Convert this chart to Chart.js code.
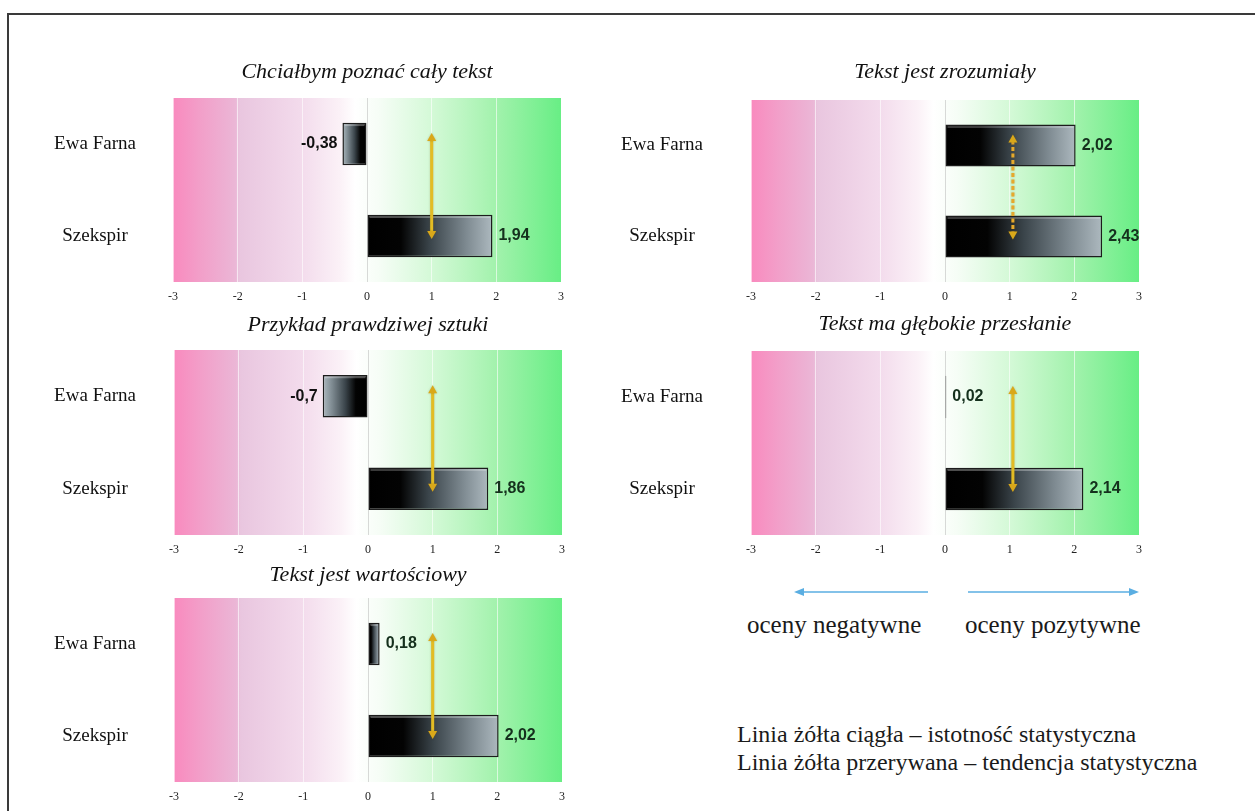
<!DOCTYPE html>
<html>
<head>
<meta charset="utf-8">
<script src="https://cdn.jsdelivr.net/npm/chart.js@4.4.1/dist/chart.umd.min.js"></script>
<style>
  html, body { margin: 0; padding: 0; background: #fff; }
  body { width: 1255px; height: 811px; position: relative; overflow: hidden; font-family: "Liberation Serif", "Times New Roman", serif; }
  .frame { position: absolute; left: 7px; top: 13px; width: 1260px; height: 820px; border-top: 2px solid #3a3a3a; border-left: 2px solid #3a3a3a; }
  .box { position: absolute; }
  .note { position: absolute; color: #1a1a1a; white-space: nowrap; }
</style>
</head>
<body>
<div class="frame"></div>
<div class="box" id="b0"><canvas id="c0"></canvas></div>
<div class="box" id="b1"><canvas id="c1"></canvas></div>
<div class="box" id="b2"><canvas id="c2"></canvas></div>
<div class="box" id="b3"><canvas id="c3"></canvas></div>
<div class="box" id="b4"><canvas id="c4"></canvas></div>

<svg style="position:absolute;left:780px;top:580px" width="370" height="24">
  <line x1="148" y1="12" x2="24" y2="12" stroke="#5aaee2" stroke-width="1.5"/>
  <polygon points="14,12 24,8 24,16" fill="#5aaee2"/>
  <line x1="188" y1="12" x2="350" y2="12" stroke="#5aaee2" stroke-width="1.5"/>
  <polygon points="359,12 349,8 349,16" fill="#5aaee2"/>
</svg>
<div class="note" style="left:747px;top:612px;font-size:25px;line-height:1">oceny negatywne</div>
<div class="note" style="left:965px;top:612px;font-size:25px;line-height:1">oceny pozytywne</div>
<div class="note" style="left:737px;top:720px;font-size:24px;line-height:28px">Linia żółta ciągła – istotność statystyczna<br>Linia żółta przerywana – tendencja statystyczna</div>

<script>
// chart values
const categories = ['Ewa Farna', 'Szekspir'];
const titles = [
  'Chciałbym poznać cały tekst',
  'Tekst jest zrozumiały',
  'Przykład prawdziwej sztuki',
  'Tekst ma głębokie przesłanie',
  'Tekst jest wartościowy'
];
const ewaFarna = [-0.38, 2.02, -0.7, 0.02, 0.18];
const szekspir = [1.94, 2.43, 1.86, 2.14, 2.02];
const arrowAt = [1, 1.05, 1, 1.05, 1];
const arrowDashed = [false, true, false, false, false];
const xMin = -3, xMax = 3;

// where each small panel sits on the page
const panels = [
  { plotL: 173, plotR: 561, plotT: 98, plotB: 282, titleY: 72, labelX: 95 },
  { plotL: 751, plotR: 1139, plotT: 100, plotB: 282, titleY: 72, labelX: 662 },
  { plotL: 174, plotR: 562, plotT: 350, plotB: 535, titleY: 325, labelX: 95 },
  { plotL: 751, plotR: 1139, plotT: 351, plotB: 535, titleY: 324, labelX: 662 },
  { plotL: 174, plotR: 562, plotT: 598, plotB: 782, titleY: 575, labelX: 95 }
];

const SERIF = '"Liberation Serif", "Times New Roman", serif';
const bgStops = [
  [0, '#f98abe'], [0.07, '#f29fc9'], [0.16, '#ebb6d6'], [0.172, '#e9c6df'],
  [0.33, '#f3dbec'], [0.43, '#fbf1f7'], [0.47, '#ffffff'], [0.53, '#f6fdf6'],
  [0.67, '#d3f9d6'], [0.83, '#a3f2ad'], [1, '#68ee85']
];

const mctx = document.createElement('canvas').getContext('2d');
mctx.font = '19px ' + SERIF;
const widest = Math.max(...categories.map(c => mctx.measureText(c).width));

function barFill(ctx) {
  const chart = ctx.chart;
  const xs = chart.scales.x;
  if (!xs || !chart.chartArea || typeof ctx.raw !== 'number') return '#000';
  const x0 = xs.getPixelForValue(0), x1 = xs.getPixelForValue(ctx.raw);
  if (Math.abs(x1 - x0) < 2) return '#555';
  const g = chart.ctx.createLinearGradient(x0, 0, x1, 0);
  g.addColorStop(0, '#000');
  g.addColorStop(0.27, '#030303');
  g.addColorStop(0.5, '#3a444a');
  g.addColorStop(0.8, '#808c93');
  g.addColorStop(1, '#adb9bf');
  return g;
}

function drawArrow(c, x, yTop, yBot, dashed) {
  c.save();
  c.strokeStyle = dashed ? '#e6a92c' : '#e3bc24';
  c.lineWidth = 3;
  c.shadowColor = 'rgba(120,90,0,0.35)';
  c.shadowBlur = 2;
  if (dashed) c.setLineDash([4, 2.5]);
  c.beginPath();
  c.moveTo(x, yTop + 6);
  c.lineTo(x, yBot - 6);
  c.stroke();
  c.setLineDash([]);
  c.fillStyle = '#d9a81a';
  c.beginPath();
  c.moveTo(x, yTop); c.lineTo(x - 4.5, yTop + 8); c.lineTo(x + 4.5, yTop + 8);
  c.closePath(); c.fill();
  c.beginPath();
  c.moveTo(x, yBot); c.lineTo(x - 4.5, yBot - 8); c.lineTo(x + 4.5, yBot - 8);
  c.closePath(); c.fill();
  c.restore();
}

const decor = {
  id: 'decor',
  beforeDraw(chart) {
    const a = chart.chartArea, c = chart.ctx;
    const g = c.createLinearGradient(a.left, 0, a.right, 0);
    bgStops.forEach(([p, col]) => g.addColorStop(p, col));
    c.save();
    c.fillStyle = g;
    c.fillRect(a.left, a.top, a.width, a.height);
    c.restore();
  },
  afterDatasetsDraw(chart, args, opts) {
    const c = chart.ctx, xs = chart.scales.x, ys = chart.scales.y;
    const data = chart.data.datasets[0].data;
    chart.getDatasetMeta(0).data.forEach((bar, j) => {
      const v = data[j];
      const p = bar.getProps(['x', 'y', 'base', 'height'], true);
      // light bevel along the top edge
      if (Math.abs(p.x - p.base) > 8) {
        c.save();
        c.strokeStyle = 'rgba(255,255,255,0.3)';
        c.lineWidth = 1.5;
        const t = p.y - p.height / 2 + 2.5;
        c.beginPath();
        c.moveTo(Math.min(p.x, p.base) + 2, t);
        c.lineTo(Math.max(p.x, p.base) - 2, t);
        c.stroke();
        c.restore();
      }
      c.save();
      c.font = 'bold 16px "Liberation Sans", Arial, sans-serif';
      c.fillStyle = v < 0 ? '#111' : '#15301d';
      c.textBaseline = 'middle';
      c.textAlign = v < 0 ? 'right' : 'left';
      c.fillText(String(v).replace('.', ','), p.x + (v < 0 ? -5 : 6), p.y);
      c.restore();
    });
    const ax = xs.getPixelForValue(opts.arrowAt);
    drawArrow(c, ax, ys.getPixelForValue(0) - 11, ys.getPixelForValue(1) + 3, opts.dashed);
  }
};

panels.forEach((pn, i) => {
  const left = pn.labelX - 60;
  const top = pn.titleY - 11 - 3;
  const box = document.getElementById('b' + i);
  box.style.left = left + 'px';
  box.style.top = top + 'px';
  box.style.width = (pn.plotR + 14 - left) + 'px';
  box.style.height = (pn.plotB + 26 - top) + 'px';

  new Chart(document.getElementById('c' + i), {
    type: 'bar',
    data: {
      labels: categories,
      datasets: [{
        data: [ewaFarna[i], szekspir[i]],
        backgroundColor: barFill,
        borderColor: '#1c1c1c',
        borderWidth: 1.5,
        borderSkipped: false,
        barPercentage: 0.46,
        categoryPercentage: 1
      }]
    },
    options: {
      indexAxis: 'y',
      responsive: true,
      maintainAspectRatio: false,
      animation: false,
      layout: { padding: { left: 0, right: 14, top: 0, bottom: 0 } },
      plugins: {
        legend: { display: false },
        tooltip: { enabled: false },
        title: {
          display: true,
          text: titles[i],
          fullSize: false,
          color: '#111',
          font: { family: SERIF, size: 22, style: 'italic', weight: 'normal', lineHeight: 1 },
          padding: { top: 3, bottom: pn.plotT - top - 22 - 3 }
        },
        decor: { arrowAt: arrowAt[i], dashed: arrowDashed[i] }
      },
      scales: {
        x: {
          min: xMin,
          max: xMax,
          ticks: { stepSize: 1, padding: 8, color: '#222', font: { family: SERIF, size: 12 } },
          grid: {
            color: ctx => ctx.tick && ctx.tick.value === 0 ? 'rgba(150,150,150,0.35)' : 'rgba(255,255,255,0.6)',
            drawTicks: false
          },
          border: { display: false },
          afterFit: s => { s.height = 26; }
        },
        y: {
          ticks: {
            crossAlign: 'center',
            padding: pn.plotL - pn.labelX - widest / 2,
            color: '#111',
            font: { family: SERIF, size: 19 }
          },
          grid: { display: false, drawTicks: false },
          border: { display: false },
          afterFit: s => {
            s.width = pn.plotL - left;
            s.paddingTop = 0;
            s.paddingBottom = 0;
          }
        }
      }
    },
    plugins: [decor]
  });
});
</script>
</body>
</html>
